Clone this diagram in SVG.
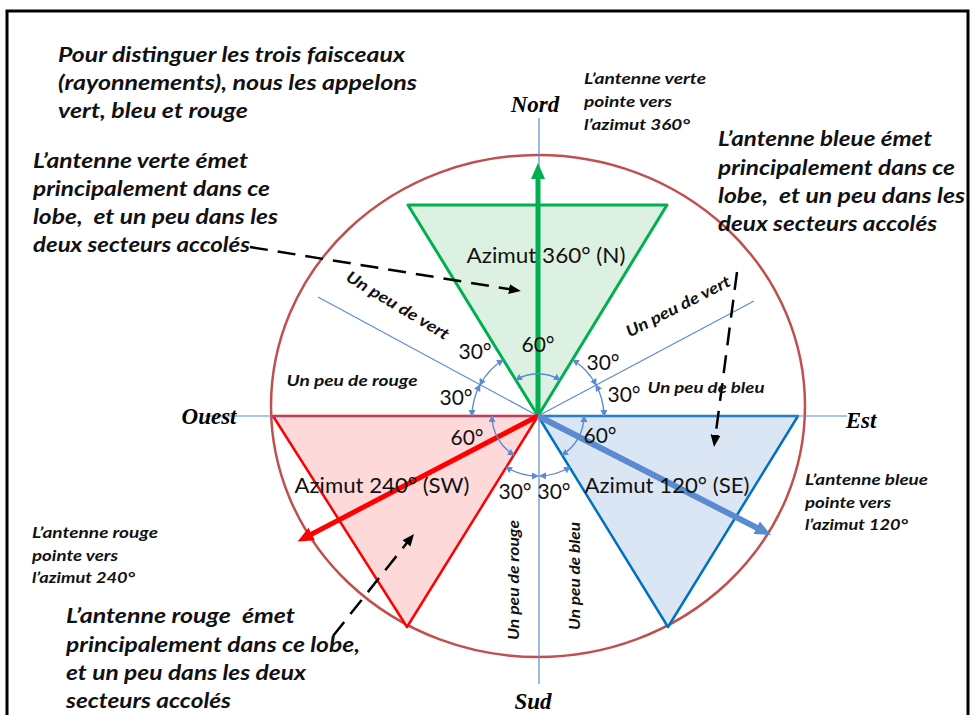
<svg xmlns="http://www.w3.org/2000/svg" width="974" height="715" viewBox="0 0 974 715">
<style>
.bi{font-family:Lato,"Liberation Sans",sans-serif;font-weight:bold;font-style:italic;fill:#111}
.big{font-size:20px}
.sm{font-size:16px}
.reg{font-family:Lato,"Liberation Sans",sans-serif;font-size:21px;fill:#111}
.card{font-family:"Liberation Serif",serif;font-weight:bold;font-style:italic;font-size:23px;fill:#000}
.thin{stroke:#5b8bd0;stroke-width:1.2;fill:none}
.arc{stroke:#5b8bd0;stroke-width:1.4;fill:none;marker-start:url(#sa);marker-end:url(#sa)}
.dash{stroke:#000;stroke-width:2.5;stroke-dasharray:18 10;fill:none;marker-end:url(#da)}
</style>
<defs>
<marker id="ga" markerUnits="userSpaceOnUse" markerWidth="18" markerHeight="16" refX="2" refY="7" orient="auto"><path d="M0,0 L16,7 L0,14 z" fill="#00b050"/></marker>
<marker id="ra" markerUnits="userSpaceOnUse" markerWidth="18" markerHeight="16" refX="2" refY="7" orient="auto"><path d="M0,0 L16,7 L0,14 z" fill="#ff0000"/></marker>
<marker id="ba" markerUnits="userSpaceOnUse" markerWidth="18" markerHeight="16" refX="2" refY="7" orient="auto"><path d="M0,0 L16,7 L0,14 z" fill="#5a8ad0"/></marker>
<marker id="da" markerUnits="userSpaceOnUse" markerWidth="14" markerHeight="12" refX="2" refY="5" orient="auto"><path d="M0,0 L12,5 L0,10 z" fill="#000"/></marker>
<marker id="sa" markerUnits="userSpaceOnUse" markerWidth="8" markerHeight="8" refX="6" refY="3.5" orient="auto-start-reverse"><path d="M0,0 L7,3.5 L0,7 z" fill="#5b8bd0"/></marker>
</defs>
<rect width="974" height="715" fill="#fff"/>
<rect x="7" y="11" width="961" height="730" fill="none" stroke="#000" stroke-width="3"/>

<g id="circle"><ellipse cx="538" cy="406" rx="267" ry="251" fill="none" stroke="#c0504d" stroke-width="2.5"/></g>

<g id="lobe-vert"><polygon points="538,416 408,205 667,205" fill="#dcf1e2" stroke="#00b050" stroke-width="3" stroke-linejoin="round"/></g>
<g id="lobe-rouge"><polygon points="538,416 273,416 407,627" fill="#fdd9d9" stroke="#ff0000" stroke-width="2.5" stroke-linejoin="round"/></g>
<g id="lobe-bleu"><polygon points="538,416 798,416 668,627" fill="#dae6f4" stroke="#0070c0" stroke-width="2.5" stroke-linejoin="round"/></g>

<g id="connectors">
<line class="thin" x1="539" y1="118" x2="539" y2="684"/>
<line class="thin" x1="205" y1="416" x2="847" y2="416"/>
<line class="thin" x1="318" y1="297" x2="538" y2="416"/>
<line class="thin" x1="754" y1="301" x2="538" y2="416"/>

<line x1="538" y1="416" x2="538" y2="177" stroke="#00b050" stroke-width="5" marker-end="url(#ga)"/>
<line x1="538" y1="416" x2="310" y2="535" stroke="#ff0000" stroke-width="5" marker-end="url(#ra)"/>
<line x1="538" y1="416" x2="758.5" y2="528.6" stroke="#5a8ad0" stroke-width="6" marker-end="url(#ba)"/>

<path class="arc" d="M516,380 A42,42 0 0 1 560,380"/>
<path class="arc" d="M503,360 A66,66 0 0 0 480,385"/>
<path class="arc" d="M480,385 A66,66 0 0 0 472,416"/>
<path class="arc" d="M573,360 A66,66 0 0 1 596,385"/>
<path class="arc" d="M596,385 A66,66 0 0 1 604,416"/>
<path class="arc" d="M492,416 A46,46 0 0 0 514,455"/>
<path class="arc" d="M584,416 A46,46 0 0 1 562,455"/>
<path class="arc" d="M506,467 A60,60 0 0 0 538,476"/>
<path class="arc" d="M570,467 A60,60 0 0 1 540,476"/>

<line class="dash" x1="250" y1="247" x2="511" y2="289.4"/>
<line class="dash" x1="737" y1="272" x2="715.3" y2="437"/>
<line class="dash" x1="333" y1="636" x2="407.8" y2="541.8"/>
</g>

<g id="cardinaux">
<text class="card" x="535" y="112" text-anchor="middle">Nord</text>
<text class="card" x="209" y="424" text-anchor="middle">Ouest</text>
<text class="card" x="861" y="428" text-anchor="middle">Est</text>
<text class="card" x="533" y="709" text-anchor="middle">Sud</text>
</g>

<g id="texte-intro">
<text class="bi big" x="58" y="62" textLength="347" lengthAdjust="spacingAndGlyphs">Pour distinguer les trois faisceaux</text>
<text class="bi big" x="58" y="90" textLength="359" lengthAdjust="spacingAndGlyphs">(rayonnements), nous les appelons</text>
<text class="bi big" x="58" y="118" textLength="190" lengthAdjust="spacingAndGlyphs">vert, bleu et rouge</text>
</g>

<g id="texte-vert">
<text class="bi big" x="33" y="168" textLength="215" lengthAdjust="spacingAndGlyphs">L’antenne verte émet</text>
<text class="bi big" x="33" y="196" textLength="237" lengthAdjust="spacingAndGlyphs">principalement dans ce</text>
<text class="bi big" x="33" y="224" textLength="245" lengthAdjust="spacingAndGlyphs" xml:space="preserve">lobe,  et un peu dans les</text>
<text class="bi big" x="33" y="252" textLength="217" lengthAdjust="spacingAndGlyphs">deux secteurs accolés</text>
</g>

<g id="texte-bleu">
<text class="bi big" x="718" y="146" textLength="214" lengthAdjust="spacingAndGlyphs">L’antenne bleue émet</text>
<text class="bi big" x="718" y="175" textLength="237" lengthAdjust="spacingAndGlyphs">principalement dans ce</text>
<text class="bi big" x="718" y="203" textLength="247" lengthAdjust="spacingAndGlyphs" xml:space="preserve">lobe,  et un peu dans les</text>
<text class="bi big" x="718" y="231" textLength="219" lengthAdjust="spacingAndGlyphs">deux secteurs accolés</text>
</g>

<g id="texte-rouge">
<text class="bi big" x="66" y="623" textLength="229" lengthAdjust="spacingAndGlyphs" xml:space="preserve">L’antenne rouge  émet</text>
<text class="bi big" x="66" y="652" textLength="294" lengthAdjust="spacingAndGlyphs">principalement dans ce lobe,</text>
<text class="bi big" x="66" y="680" textLength="240" lengthAdjust="spacingAndGlyphs">et un peu dans les deux</text>
<text class="bi big" x="66" y="708" textLength="165" lengthAdjust="spacingAndGlyphs">secteurs accolés</text>
</g>

<g id="pointe-vert">
<text class="bi sm" x="584" y="84" textLength="122" lengthAdjust="spacingAndGlyphs">L’antenne verte</text>
<text class="bi sm" x="584" y="107" textLength="88" lengthAdjust="spacingAndGlyphs">pointe vers</text>
<text class="bi sm" x="584" y="130" textLength="106" lengthAdjust="spacingAndGlyphs">l’azimut 360°</text>
</g>
<g id="pointe-bleu">
<text class="bi sm" x="805" y="485" textLength="123" lengthAdjust="spacingAndGlyphs">L’antenne bleue</text>
<text class="bi sm" x="805" y="508" textLength="86" lengthAdjust="spacingAndGlyphs">pointe vers</text>
<text class="bi sm" x="805" y="530" textLength="103" lengthAdjust="spacingAndGlyphs">l’azimut 120°</text>
</g>
<g id="pointe-rouge">
<text class="bi sm" x="32" y="538" textLength="126" lengthAdjust="spacingAndGlyphs">L’antenne rouge</text>
<text class="bi sm" x="32" y="561" textLength="86" lengthAdjust="spacingAndGlyphs">pointe vers</text>
<text class="bi sm" x="32" y="583" textLength="103" lengthAdjust="spacingAndGlyphs">l’azimut 240°</text>
</g>

<g id="secteurs">
<text class="bi sm" x="398" y="311" text-anchor="middle" textLength="117" lengthAdjust="spacingAndGlyphs" transform="rotate(31 398 305)">Un peu de vert</text>
<text class="bi sm" x="678" y="312" text-anchor="middle" textLength="115" lengthAdjust="spacingAndGlyphs" transform="rotate(-27 678 306)">Un peu de vert</text>
<text class="bi sm" x="352" y="386" text-anchor="middle" textLength="131" lengthAdjust="spacingAndGlyphs">Un peu de rouge</text>
<text class="bi sm" x="706" y="393" text-anchor="middle" textLength="117" lengthAdjust="spacingAndGlyphs">Un peu de bleu</text>
<text class="bi sm" x="513" y="586" text-anchor="middle" textLength="120" lengthAdjust="spacingAndGlyphs" transform="rotate(-90 513 580)">Un peu de rouge</text>
<text class="bi sm" x="574" y="582" text-anchor="middle" textLength="108" lengthAdjust="spacingAndGlyphs" transform="rotate(-90 574 576)">Un peu de bleu</text>
</g>

<g id="azimuts">
<text class="reg" x="546" y="263" text-anchor="middle" textLength="159" lengthAdjust="spacingAndGlyphs">Azimut 360° (N)</text>
<text class="reg" x="382" y="493" text-anchor="middle" textLength="175" lengthAdjust="spacingAndGlyphs">Azimut 240° (SW)</text>
<text class="reg" x="667" y="493" text-anchor="middle" textLength="165" lengthAdjust="spacingAndGlyphs">Azimut 120° (SE)</text>
</g>

<g id="angles">
<text class="reg" x="538" y="352" text-anchor="middle">60°</text>
<text class="reg" x="475" y="359" text-anchor="middle">30°</text>
<text class="reg" x="456" y="405" text-anchor="middle">30°</text>
<text class="reg" x="603" y="370" text-anchor="middle">30°</text>
<text class="reg" x="624" y="402" text-anchor="middle">30°</text>
<text class="reg" x="467" y="445" text-anchor="middle">60°</text>
<text class="reg" x="600" y="443" text-anchor="middle">60°</text>
<text class="reg" x="515" y="499" text-anchor="middle">30°</text>
<text class="reg" x="554" y="499" text-anchor="middle">30°</text>
</g>
</svg>
